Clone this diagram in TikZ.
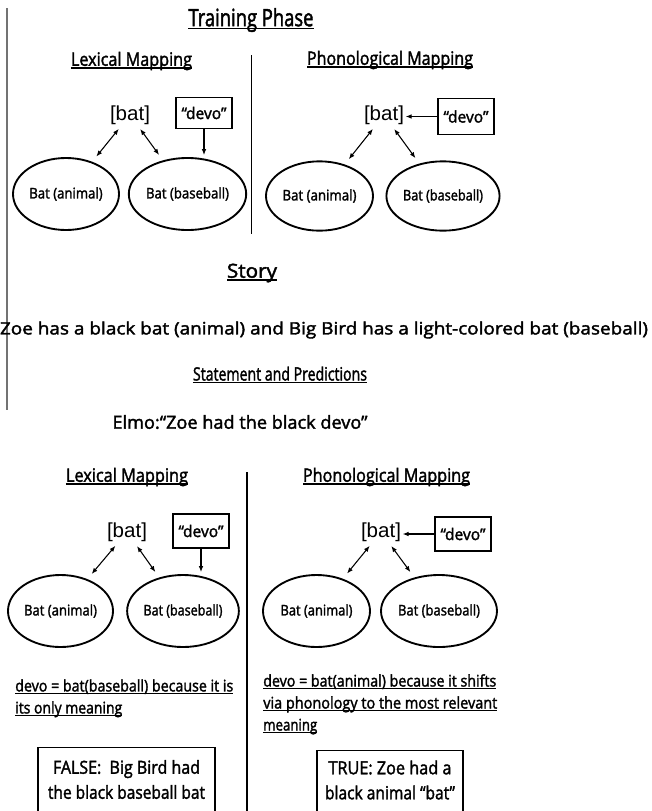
\documentclass[tikz,border=0pt]{standalone}
\usepackage{fontspec}
\setmainfont[FakeBold=2]{Open Sans}
\newfontfamily\formfont{Liberation Sans}
\usetikzlibrary{shapes.geometric,arrows.meta}
% underline just below the baseline
\newcommand{\uln}[1]{{\setbox0\hbox{#1}\rlap{\rule[-2.2pt]{\wd0}{1pt}}\box0}}
% set a text to a given width (in pt), keeping its height
\newcommand{\fitw}[2]{\resizebox{#1pt}{\height}{#2}}

\begin{document}
\begin{tikzpicture}[x=0.75pt,y=-0.75pt,
  txt/.style={inner sep=0pt, font=\fontsize{#1}{#1}\selectfont},
  sense/.style={draw, ellipse, line width=1.4pt, inner sep=0pt, minimum height=54pt,
                font=\fontsize{11}{12}\selectfont},
  form/.style={inner sep=0pt, font=\formfont\fontsize{15.2}{17}\selectfont},
  wordbox/.style={draw, line width=0.8pt, inner sep=0pt, minimum width=42pt,
                  font=\fontsize{12}{13}\selectfont},
  note/.style={inner sep=0pt, align=left, anchor=north west,
               font=\fontsize{12}{16.5}\selectfont},
  verdict/.style={draw, line width=0.8pt, inner sep=0pt, anchor=north},
  verdicttext/.style={inner sep=0pt, align=center, font=\fontsize{13.5}{18.75}\selectfont},
  link/.style={line width=0.8pt, {Latex[length=4.5pt,width=3.5pt]}-{Latex[length=4.5pt,width=3.5pt]}},
  feed/.style={line width=0.8pt, -{Latex[length=4.5pt,width=3.5pt]}},
  divider/.style={line width=1.2pt},
]
\useasboundingbox (0,0) rectangle (651,811);
\clip (0,0) rectangle (651,811);

% margin rule on the left
\draw[line width=0.8pt, black!55] (7,8) -- (7,410);

% ---------------- Training phase ----------------
\node[txt=18] (train) at (251,20) {\uln{\fitw{93.75}{Training Phase}}};
\node[txt=13.8] (lexA) at (131.5,61) {\uln{\fitw{90.75}{Lexical Mapping}}};
\node[txt=13.8] (phonA) at (390,60) {\uln{\fitw{124.5}{Phonological Mapping}}};
\draw[divider] (251.5,55) -- (251.5,234);

% lexical mapping
\node[form] (batA) at (130,115) {\fitw{30}{[bat]}};
\node[wordbox, minimum height=23.25pt] (devoA) at (204,113) {\fitw{33.75}{“devo”}};
\node[sense, minimum width=79.5pt] (animA) at (66,194) {\fitw{55}{Bat (animal)}};
\node[sense, minimum width=80.25pt] (baseA) at (187.5,194) {\fitw{62.25}{Bat (baseball)}};
\draw[link, shorten <=4pt, shorten >=5pt] (batA) -- (animA);
\draw[link, shorten <=4pt, shorten >=5pt] (batA) -- (baseA);
\draw[feed, shorten >=1.5pt] (devoA.south) -- (devoA.south |- baseA.north);

% phonological mapping
\node[form] (batB) at (384,115) {\fitw{30}{[bat]}};
\node[wordbox, minimum height=27pt] (devoB) at (466,116.5) {\fitw{33.75}{“devo”}};
\node[sense, minimum width=80.25pt, minimum height=52pt] (animB) at (319.5,196) {\fitw{55.5}{Bat (animal)}};
\node[sense, minimum width=81pt, minimum height=52pt] (baseB) at (443,196) {\fitw{60}{Bat (baseball)}};
\draw[link, shorten <=4pt, shorten >=5pt] (batB) -- (animB);
\draw[link, shorten <=4pt, shorten >=5pt] (batB) -- (baseB);
\draw[feed, shorten >=1pt] (devoB.west) -- (batB.east |- devoB.west);

% ---------------- Story ----------------
\node[txt=14.5] (story) at (252,273) {\uln{\fitw{37.5}{Story}}};
\node[txt=12.8] (storytext) at (324,330) {\fitw{486}{Zoe has a black bat (animal) and Big Bird has a light-colored bat (baseball)}};
\node[txt=13.8] (stmt) at (280,375) {\uln{\fitw{130.5}{Statement and Predictions}}};
\node[txt=13.5] (elmo) at (240,422) {\fitw{191.25}{Elmo:“Zoe had the black devo”}};

% ---------------- Predictions ----------------
\node[txt=13.8] (lexC) at (127,477) {\uln{\fitw{91.5}{Lexical Mapping}}};
\node[txt=13.8] (phonC) at (386.5,477) {\uln{\fitw{125.25}{Phonological Mapping}}};
\draw[divider] (247,472) -- (247,811);

% lexical mapping
\node[form] (batC) at (127,532) {\fitw{30}{[bat]}};
\node[wordbox, minimum height=25.5pt] (devoC) at (201,531) {\fitw{33.75}{“devo”}};
\node[sense, minimum width=78.75pt] (animC) at (60.5,611) {\fitw{54.75}{Bat (animal)}};
\node[sense, minimum width=82.5pt] (baseC) at (183,611) {\fitw{59.25}{Bat (baseball)}};
\draw[link, shorten <=4pt, shorten >=5pt] (batC) -- (animC);
\draw[link, shorten <=4pt, shorten >=5pt] (batC) -- (baseC);
\draw[feed, shorten >=1.5pt] (devoC.south) -- (devoC.south |- baseC.north);

% phonological mapping
\node[form] (batD) at (381,532) {\fitw{30}{[bat]}};
\node[wordbox, minimum height=25.5pt] (devoD) at (463,534) {\fitw{33.75}{“devo”}};
\node[sense, minimum width=80.25pt] (animD) at (316.5,611) {\fitw{54}{Bat (animal)}};
\node[sense, minimum width=79.5pt] (baseD) at (439,611) {\fitw{61.5}{Bat (baseball)}};
\draw[link, shorten <=4pt, shorten >=5pt] (batD) -- (animD);
\draw[link, shorten <=4pt, shorten >=5pt] (batD) -- (baseD);
\draw[feed, shorten >=1pt] (devoD.west) -- (batD.east |- devoD.west);

% explanations
\node[note] (whyC) at (15,679) {\uln{\fitw{163.5}{devo = bat(baseball) because it is}}\\
                                \uln{\fitw{80.25}{its only meaning}}};
\node[note] (whyD) at (263,674) {\uln{\fitw{174.75}{devo = bat(animal) because it shifts}}\\
                                 \uln{\fitw{175.5}{via phonology to the most relevant}}\\
                                 \uln{\fitw{40.5}{meaning}}};

% verdicts
\node[verdict, minimum width=132.75pt, minimum height=60pt] (falsebox) at (126.5,747) {};
\node[verdicttext] (falsetext) at (126.5,779.5) {\fitw{110.25}{FALSE:\ \ Big Bird had}\\
                                                 \fitw{117.75}{the black baseball bat}};
\node[verdict, minimum width=109.5pt, minimum height=60pt] (truebox) at (390,750) {};
\node[verdicttext] (truetext) at (390,780) {\fitw{92.25}{TRUE: Zoe had a}\\
                                            \fitw{97.5}{black animal “bat”}};
\end{tikzpicture}
\end{document}
